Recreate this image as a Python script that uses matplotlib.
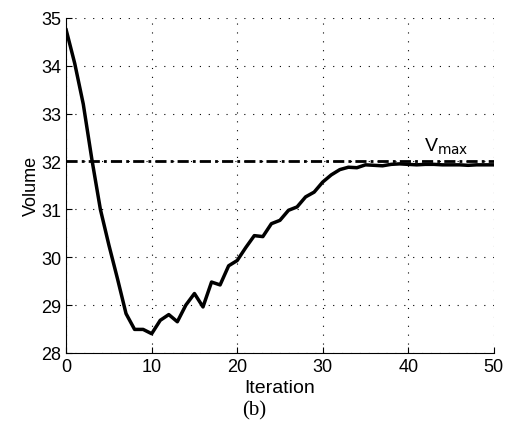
import numpy as np
import matplotlib
matplotlib.use('Agg')
import matplotlib.pyplot as plt

plt.rcParams.update({'font.family': 'Liberation Sans', 'font.size': 13})

iteration = list(range(0, 51))
volume = [34.75, 34.05, 33.2, 32.05, 31.0, 30.25, 29.55, 28.82, 28.49, 28.49,
          28.4, 28.68, 28.8, 28.65, 29.0, 29.24, 28.96, 29.48, 29.42, 29.82,
          29.93, 30.2, 30.45, 30.43, 30.7, 30.77, 30.98, 31.05, 31.26, 31.36,
          31.57, 31.72, 31.83, 31.88, 31.87, 31.93, 31.92, 31.91, 31.94, 31.95,
          31.94, 31.93, 31.94, 31.94, 31.93, 31.93, 31.93, 31.92, 31.93, 31.93,
          31.93]
v_max = 32.0

fig = plt.figure(figsize=(5.09, 4.31), dpi=100)
ax = fig.add_axes([0.130, 0.179, 0.840, 0.777])

ax.plot([0, 50], [v_max, v_max], color='black', linewidth=2.0,
        linestyle=(0, (4, 1.5, 1, 1.5)))
ax.plot(iteration, volume, color='black', linewidth=2.5)
ax.text(41.8, 32.12, r'V$_{\mathrm{max}}$', fontsize=14, ha='left', va='bottom')

ax.set_xlim(0, 50)
ax.set_ylim(28, 35)
ax.set_xticks(range(0, 51, 10))
ax.set_yticks(range(28, 36))
ax.grid(True, linestyle=(0, (1, 7)), color='black', linewidth=0.8)
ax.tick_params(direction='in', length=4)
ax.spines['top'].set_visible(False)
ax.spines['right'].set_visible(False)
ax.set_xlabel('Iteration', fontsize=14, labelpad=3)
ax.set_ylabel('Volume', labelpad=1)

fig.text(0.5, 0.035, '(b)', family='Liberation Serif', fontsize=15, ha='center')

plt.savefig('out.png', dpi=100)
